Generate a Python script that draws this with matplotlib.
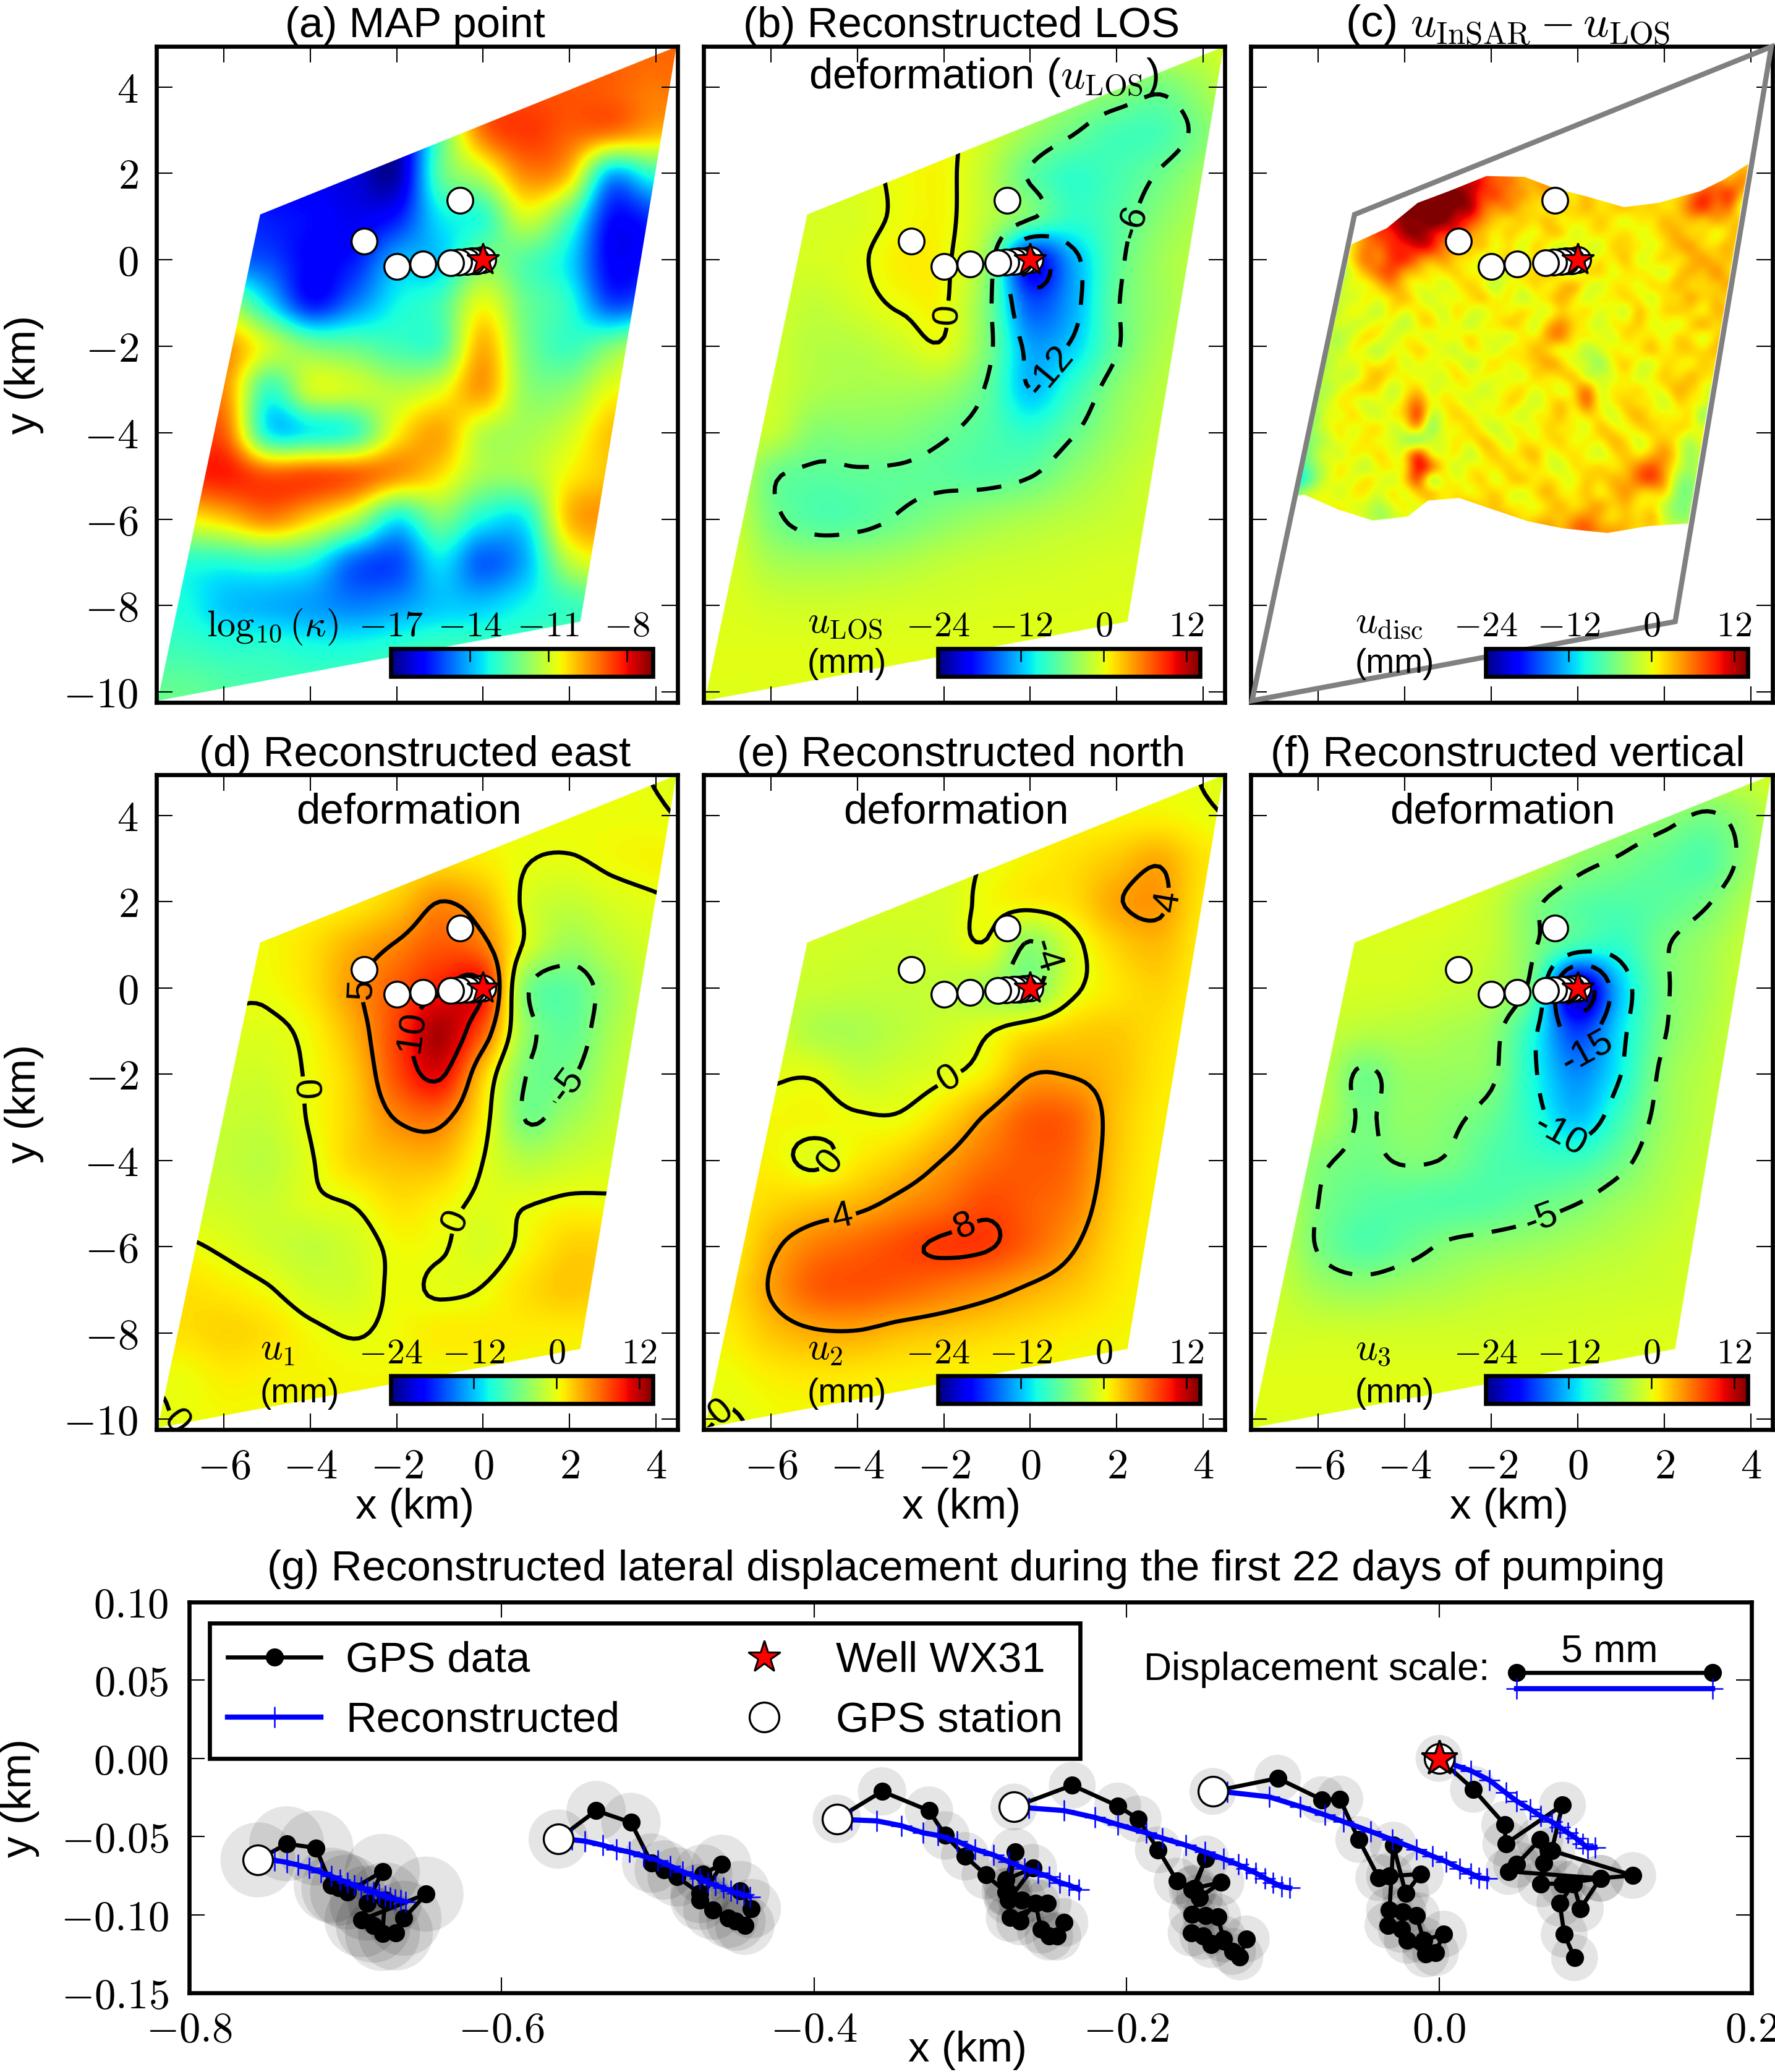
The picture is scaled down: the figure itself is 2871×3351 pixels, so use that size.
import numpy as np
import matplotlib
matplotlib.use('Agg')
import matplotlib.pyplot as plt
from matplotlib.lines import Line2D
from matplotlib.patches import Polygon, Circle

plt.rcParams['font.family'] = ['Liberation Sans', 'DejaVu Sans']
plt.rcParams['mathtext.fontset'] = 'cm'
plt.rcParams['axes.linewidth'] = 1.6

W, H = 2871, 3351

## grid nodes of the smooth fields (km)
x_nodes = np.arange(-8, 6)
y_nodes = np.arange(5, -12, -1)

## (a) log10 permeability
kappa = [
 [-16,-16,-16,-16,-16,-16,-16,-12,-9,-9,-9,-9,-9,-9],
 [-16,-16,-16,-16,-16,-16,-16,-12,-9,-8.8,-8.8,-8.9,-9.2,-9],
 [-16,-16,-16,-16,-16,-16.3,-16.5,-12.5,-9.2,-8.5,-8.9,-9.2,-9.8,-10],
 [-15.5,-15.5,-15.5,-15.8,-16,-16.2,-16.6,-12.5,-11.2,-9.4,-10,-14,-13,-13],
 [-15,-15,-15.2,-15.5,-15.7,-16,-15.5,-13.5,-13,-11,-12.5,-15.6,-15.3,-15],
 [-14.5,-14.5,-14.7,-15,-15.8,-15.5,-14,-13.7,-12,-12.5,-13.5,-15.8,-15.5,-15],
 [-11.5,-11.5,-11.5,-13.5,-15.5,-14.5,-13.3,-12.7,-10.7,-12.2,-13,-15,-14.5,-14],
 [-9.5,-9.5,-9.5,-11,-12,-12.3,-12.7,-12.6,-9.8,-12,-12.8,-12,-11,-11],
 [-9.5,-9.5,-9.5,-12.8,-11,-11,-11.3,-10.8,-9.6,-11.7,-11.8,-10.7,-10.5,-10.5],
 [-9,-9,-9,-13.3,-13.3,-12.8,-10.5,-9.7,-11.2,-11.5,-11,-10,-10,-10],
 [-8.4,-8.4,-8.2,-8.8,-8.7,-8.9,-9.5,-10.3,-11.5,-11.5,-10.5,-10,-10,-10],
 [-10.5,-10.5,-10,-9.3,-10.1,-11.3,-13.3,-12,-13.2,-13.3,-10,-9.5,-9.5,-9.5],
 [-13,-13,-13,-12.8,-13.2,-14.7,-15,-13.5,-14.8,-14,-11.3,-10.5,-10.5,-10.5],
 [-13.2,-13.2,-13.8,-14,-14.2,-14.5,-14.3,-13.8,-13.8,-13.3,-12.8,-12.5,-12.5,-12.5],
 [-12.8,-12.8,-13,-13,-13.2,-13.2,-13,-12.8,-12.8,-12.8,-12.5,-12.5,-12.5,-12.5],
 [-12.3,-12.3,-12.5,-12.7,-12.7,-12.7,-12.7,-12.7,-12.7,-12.7,-12.5,-12.5,-12.5,-12.5],
 [-12.3,-12.3,-12.5,-12.7,-12.7,-12.7,-12.7,-12.7,-12.7,-12.7,-12.5,-12.5,-12.5,-12.5],
]

## (b) LOS deformation (mm)
u_los = [
 [-.5,-.5,-.5,-.5,-.5,-.5,-.5,-.5,-.5,-.5,-.5,-1.5,-1.5,-.4],
 [-.5,-.5,-.5,-.5,-.5,-.5,-.5,-.5,-2,-3,-4,-5.5,-3.5,-.6],
 [-.5,-.5,-.5,-.5,-.5,.3,.3,-1,-3.5,-5.7,-7.5,-7.5,-5,-1.5],
 [-.5,-.5,-.5,-.5,-.5,.3,.5,-2,-6.3,-8.5,-7.5,-5.8,-3.5,-1.5],
 [-.5,-.5,-.8,-.8,-.7,.3,.5,-2,-5.5,-8.5,-7,-4.5,-2.5,-1.5],
 [-.5,-.5,-.7,-.8,-.3,.9,.4,-4,-19,-13,-6.8,-3.5,-2,-1.5],
 [-1,-1,-1,-1.7,-.8,.3,.3,-5,-16,-13,-6.3,-3.5,-2,-1.5],
 [-1,-1,-1.2,-2.3,-2.3,-1.3,-.3,-5,-13,-11.5,-6.3,-3,-1.7,-1.5],
 [-1,-1,-1.2,-2.6,-3,-3,-3.5,-6.3,-12,-8.5,-4.5,-2.3,-1.5,-1.5],
 [-1,-1,-1.7,-4.5,-4.5,-4.7,-5.7,-7,-8.5,-6.2,-3.5,-1.8,-1.3,-1.3],
 [-.7,-.7,-5.5,-6.5,-6.3,-6.3,-6.5,-6.8,-6.1,-4,-2.3,-1.2,-1,-1],
 [-1,-1,-5.2,-7,-6.8,-5.7,-4.5,-3.5,-2.8,-2.1,-1.5,-1,-1,-1],
 [-.8,-.8,-3,-3.5,-3.3,-2.8,-2,-1.5,-1.3,-1,-.8,-.7,-.7,-.7],
 [-.6,-.6,-1.2,-1.3,-1.2,-1,-.9,-.7,-.6,-.6,-.5,-.5,-.5,-.5],
 [-.4,-.4,-.4,-.4,-.4,-.4,-.4,-.4,-.4,-.4,-.4,-.4,-.4,-.4],
 [-.4,-.4,-.4,-.4,-.4,-.4,-.4,-.4,-.4,-.4,-.4,-.4,-.4,-.4],
 [-.4,-.4,-.4,-.4,-.4,-.4,-.4,-.4,-.4,-.4,-.4,-.4,-.4,-.4],
]

## (d) east deformation (mm)
u_east = [
 [.5,.5,.5,.5,.5,.5,.5,.5,.5,.5,.3,.3,-.1,-.8],
 [.5,.5,.5,.5,.5,.5,.5,.5,.5,.3,.3,.3,.2,-.3],
 [.5,.5,.5,.5,.5,.5,1,1.5,1,.1,-.1,.4,.7,.7],
 [.5,.5,.5,.5,.5,1,2.5,5,3.5,-.5,-1.7,-.8,-.2,.2],
 [.5,.5,.5,.5,1.5,3.5,5.2,7,5.7,-.5,-3.5,-2,-.8,-.5],
 [-.1,-.1,.2,.3,1.5,4.5,7,9.5,10,-4.5,-6.5,-3.5,-1.2,-1],
 [-.3,-.3,-.3,-.4,.6,3.5,8,12.5,7,-3.7,-6.3,-3,-1,-1],
 [-1,-1,-1,-1,.3,2.5,7.5,10.5,2.5,-5,-5.3,-2.3,-1,-1],
 [-1.5,-1.5,-1.5,-1.5,.2,2.2,5.2,5.8,1,-5.2,-3.5,-1.7,-1,-1],
 [-1.7,-1.7,-1.7,-2,-.2,2,3,3,0,-2.3,-1.5,-.8,-.5,-.5],
 [-1,-1,-1.2,-1.5,-.4,.1,1.5,.8,-.4,-.1,.4,.3,.3,.3],
 [.3,.3,-.3,-1.2,-1.8,-1,.4,.2,-.8,.5,2,2,2,2],
 [1.5,1.5,1,.2,-1,-1,.3,-.2,.1,1.5,2.5,2,2,2],
 [1.5,1.5,2,1.5,.4,-.1,.4,1,1,1,1,1,1,1],
 [.3,.3,1,.8,.7,.5,.5,.5,.5,.5,.5,.5,.5,.5],
 [-.5,.1,.5,.5,.5,.5,.5,.5,.5,.5,.5,.5,.5,.5],
 [-.5,-.5,.5,.5,.5,.5,.5,.5,.5,.5,.5,.5,.5,.5],
]

## (e) north deformation (mm)
u_north = [
 [0,0,0,0,0,0,0,0,0,0,0,.3,-.1,-1],
 [0,0,0,0,0,0,0,0,.3,.5,.7,.8,.3,-.3],
 [-.5,-.5,-.5,-.5,-.5,-.5,-.5,.1,.8,1.5,2.5,3.7,1.5,.5],
 [-.8,-.8,-.8,-.8,-.8,-.8,-.8,.4,.8,1.5,3.8,4.4,1.3,.5],
 [-1,-1,-1,-1,-1.2,-1.3,-1,-.2,-4.3,-.7,2,3,1,.5],
 [-1.5,-1.5,-1.5,-1.5,-1.7,-1.7,-1.8,-3,-4.5,-.5,1.2,2,.8,.5],
 [-1,-1,-1,-2.6,-2.8,-2,-1.2,-.2,1.3,2.2,2.4,1.5,.6,.5],
 [-.2,-.2,-.2,-.2,-1.5,-1,-.3,1,3.9,3.8,2.8,1.3,.6,.5],
 [.5,.5,.5,.6,.2,.2,1.8,4.3,6.8,6.5,2.8,1,.5,.5],
 [.7,.7,.7,-.4,1,2.3,4.1,6,7,6.3,2.6,.8,.5,.5],
 [1,1,1.8,2.5,3.3,4.7,6,7.5,6.8,5.5,2.2,.7,.5,.5],
 [.8,.8,3.5,5.5,6.5,7.5,8.3,8.2,6.5,4.2,1.7,.5,.5,.5],
 [1.5,1.5,4.2,6.8,7.2,6.7,5.8,4.8,3.6,2.5,1.2,.4,.4,.4],
 [1,1,2.7,3.7,3.8,3,2.5,2,1.5,1,.7,.5,.5,.5],
 [.3,.3,1,1.3,1.2,1,.8,.7,.6,.5,.5,.5,.5,.5],
 [.5,-.1,.4,.5,.5,.5,.5,.5,.5,.5,.5,.5,.5,.5],
 [-.5,-.5,.4,.5,.5,.5,.5,.5,.5,.5,.5,.5,.5,.5],
]

## (f) vertical deformation (mm)
u_vert = [
 [-.5,-.5,-.5,-.5,-.5,-.5,-.5,-.5,-.5,-.5,-.5,-1.5,-1.5,-.4],
 [-.5,-.5,-.5,-.5,-.5,-.5,-.5,-.5,-2,-3,-4,-5.3,-3.5,-.6],
 [-.5,-.5,-.5,-.5,-.5,-.5,-.5,-1.5,-4,-5.2,-6.3,-7,-3.8,-1.5],
 [-.5,-.5,-.5,-.5,-.5,-.5,-1.5,-4.5,-6.5,-7,-6.5,-5.2,-2.5,-1],
 [-.7,-.7,-.7,-.7,-.7,-1,-1.7,-4.8,-8,-8.5,-5.3,-3.5,-1.5,-.7],
 [-.8,-.8,-.8,-.9,-1,-1.5,-2.4,-6.5,-22,-12,-5.5,-3.2,-1.2,-.7],
 [-1.5,-1.5,-1.5,-2.2,-2.3,-2.8,-4,-9.5,-17,-10.8,-5.2,-2.7,-1.2,-.8],
 [-2,-2,-2,-5.4,-3.7,-3.7,-4.5,-9.7,-14,-10,-4.2,-2.2,-1.2,-.8],
 [-2.5,-2.5,-2.5,-5.2,-4,-4.5,-6,-9,-12,-8,-3.8,-2,-1.2,-.8],
 [-2.5,-2.5,-4.5,-5.5,-4.8,-5.2,-7,-7.8,-8,-5.8,-3,-1.7,-.9,-.8],
 [-1.7,-1.7,-5,-6.5,-6.8,-7,-6.8,-6,-5,-3.5,-2.3,-1.2,-.8,-.8],
 [-1.8,-1.8,-5.2,-7,-6,-4.6,-4,-3.5,-2.8,-2.2,-1.5,-1,-.8,-.8],
 [-1.5,-1.5,-3.2,-3.8,-3.2,-2.7,-2,-1.7,-1.5,-1.3,-1.1,-.8,-.7,-.7],
 [-1,-1,-1.1,-1.2,-1.2,-1.1,-1,-.9,-.8,-.7,-.6,-.6,-.6,-.6],
 [-.4,-.4,-.4,-.4,-.4,-.4,-.4,-.4,-.4,-.4,-.4,-.4,-.4,-.4],
 [-.4,-.4,-.4,-.4,-.4,-.4,-.4,-.4,-.4,-.4,-.4,-.4,-.4,-.4],
 [-.4,-.4,-.4,-.4,-.4,-.4,-.4,-.4,-.4,-.4,-.4,-.4,-.4,-.4],
]

## (c) discrepancy (mm), columns x=-7..4.7, rows y=2.4..-6.6, 0.3 km cells
u_disc = [
 [2,2,2,2,2,2,2,2,2,2, 2,2,2,2,2,2,2,2,2,2, 2,2,2,2,2,2,2,2,2,2, 2,2,2,2,2,2,3,2,2,2],
 [2,2,2,2,2,2,2,2,2,2, 2,2,2,2,5,7,8,7,5,4, 4,3,2,2,2,2,2,2,2,2, 2,2,2,2,2,2,4,3,1,1],
 [2,2,2,2,2,2,2,2,2,2, 3,7,9,11,8,12,9,5,7,3, 4,6,2,3,5,2,2,2,2,2, 2,3,2,4,6,3,7,2,1,1],
 [2,2,2,2,2,2,2,2,2,4, 9,12,10,13,14,10,7,9,4,6, 2,5,3,1,4,2,3,1,2,2, 3,2,5,9,6,10,3,-1,1,1],
 [2,2,2,2,2,2,2,3,5,9, 13,14,12,14,11,13,6,4,7,2, 3,0,4,2,5,1,3,5,2,4, 1,3,7,10,4,8,-3,5,1,1],
 [2,2,2,2,2,1,2,4,7,11, 12,10,14,13,9,8,5,3,1,4, 2,5,0,3,1,4,2,-1,3,1, 5,2,4,1,6,2,4,3,0,0],
 [1,1,1,0,-1,1,3,5,9,7, 12,13,9,7,10,4,3,1,4,2, 0,3,5,-1,2,3,1,4,0,2, 3,5,1,4,-1,3,5,1,2,0],
 [0,0,-1,-2,-1,0,2,6,5,9, 7,10,11,4,6,2,5,0,3,-1, 4,2,-2,3,1,-1,4,2,3,0, 2,4,6,1,3,5,0,2,1,1],
 [-1,-1,-2,-3,-3,-1,3,7,4,8, 10,5,3,6,1,3,-1,2,4,1, 3,-1,2,4,0,3,1,5,-1,2, 4,1,3,6,2,4,1,3,1,1],
 [-2,-2,-3,-5,-4,-2,1,4,7,8, 3,4,1,2,4,0,3,1,-1,3, 2,5,1,-2,3,4,0,2,3,1, -1,3,5,2,7,1,3,4,1,1],
 [-3,-3,-4,-6,-4,0,2,0,3,6, 2,0,3,-1,2,4,1,-2,3,1, 4,0,3,6,1,-1,3,2,0,4, 2,5,1,3,2,6,2,0,1,1],
 [-3,-3,-4,-5,-3,1,-1,3,1,2, 5,1,-1,3,0,2,5,1,3,-2, 1,3,5,2,-1,3,1,4,2,-1, 3,1,6,2,4,1,5,3,1,1],
 [-3,-3,-5,-4,-2,0,3,1,-2,4, 0,3,2,-1,4,1,-1,3,0,4, 2,-1,3,1,4,0,2,-2,5,1, 3,4,2,0,5,3,6,1,1,1],
 [-3,-4,-5,-3,-1,2,-1,0,3,1, -2,2,4,0,2,-2,3,1,5,2, -1,4,6,3,1,-1,3,2,4,0, 2,-1,3,6,1,4,2,1,1,1],
 [-3,-4,-4,-2,0,-2,1,4,2,-1, 3,1,-1,3,1,4,0,2,-2,3, 1,5,7,1,3,2,-1,4,1,3, 0,4,2,-1,3,5,1,1,1,1],
 [-3,-4,-5,-3,1,-1,3,0,-2,2, 1,4,2,0,-1,3,2,-1,4,1, 5,2,-1,3,-3,1,3,0,2,5, 1,3,4,2,5,1,2,1,1,1],
 [-3,-3,-4,-1,-2,2,0,3,1,4, -1,2,0,3,2,-2,1,4,0,3, 2,6,4,-1,2,-4,2,4,1,-1, 3,2,0,4,1,3,1,1,1,1],
 [-2,-3,-4,-2,1,0,-1,2,5,1, 3,0,2,-1,4,1,3,0,2,-1, 4,1,3,5,-2,1,0,3,-1,2, 4,1,5,2,3,1,1,1,1,1],
 [-2,-3,-3,0,-2,1,3,4,2,-1, 1,4,-1,2,0,3,-2,2,1,4, 0,3,-1,2,8,-1,3,1,4,0, 2,5,3,1,-1,1,1,1,1,1],
 [-2,-3,-3,-1,0,3,1,-1,2,0, 3,7,1,3,2,-1,3,0,4,2, -1,2,4,1,9,0,2,4,1,3, -2,4,1,3,-3,1,1,1,1,1],
 [-2,-3,-2,-3,2,0,4,1,-1,3, 2,11,-2,1,4,2,0,3,1,-1, 3,1,5,0,3,2,-1,3,5,1, 3,0,4,-5,2,1,1,1,1,1],
 [-2,-3,-3,-1,1,3,0,2,4,-1, 1,6,-5,3,0,4,1,-2,3,2, 0,4,1,3,-1,5,2,0,3,4, 1,4,2,1,3,1,1,1,1,1],
 [-2,-3,-4,-2,-1,2,1,3,0,2, -2,-6,2,0,3,1,5,2,-1,3, 1,2,4,0,3,1,5,3,-1,2, 4,1,-2,3,1,1,1,1,1,1],
 [-3,-4,-4,-1,2,-1,3,1,4,0, 2,12,-1,1,3,-2,2,4,1,3, 5,0,2,3,1,-1,2,4,1,3, 6,2,-3,1,1,1,1,1,1,1],
 [-4,-5,-5,-2,0,3,1,-2,2,3, 0,11,9,2,-1,3,1,2,4,0, 3,1,-1,3,2,4,1,3,6,8, 4,1,-2,1,1,1,1,1,1,1],
 [-5,-7,-8,-3,1,2,0,4,1,-1, 3,10,-6,3,1,2,4,-1,3,5, 1,3,2,0,4,2,5,3,7,9, 5,-2,-3,1,1,1,1,1,1,1],
 [-5,-6,0,1,2,-1,3,2,0,4, -1,3,6,1,3,0,2,4,1,-1, 3,5,1,2,4,0,3,6,2,1, 4,-3,-3,1,1,1,1,1,1,1],
 [1,1,0,2,1,3,0,1,-2,1, 3,0,2,1,3,5,2,4,1,3, 0,2,5,1,3,6,2,4,1,3, -1,-3,-2,1,1,1,1,1,1,1],
 [1,1,1,1,1,1,2,0,-2,-1, 1,1,1,1,1,2,4,3,5,1, 3,4,2,5,6,3,1,4,2,5, 0,-2,-2,1,1,1,1,1,1,1],
 [2,2,2,2,2,2,2,2,2,2, 2,2,2,2,2,2,2,2,3,5, 4,6,3,7,8,5,6,4,2,3, 1,1,1,1,1,1,1,1,1,1],
 [2,2,2,2,2,2,2,2,2,2, 2,2,2,2,2,2,2,2,2,2, 2,2,2,2,2,2,2,2,2,2, 2,2,2,2,2,2,2,2,2,2],
]
disc_left, disc_right = -7.15, 4.85
disc_top, disc_bottom = 2.55, -6.75
## my cell estimates came out too warm and too flat once interpolated
disc_shift, disc_gain = -1.2, 1.3

## domain outline and the part of it covered by the InSAR frame
domain_x = [-5.16, 4.47, 2.25, -7.53]
domain_y = [1.05, 4.93, -8.37, -10.2]
insar_x = [-5.23,-4.42,-3.7,-2.98,-2.11,-1.23,-.52,.12,1.07,1.87,2.83,3.38,3.94,2.55,1.63,.68,-.36,-1.15,-1.95,-2.74,-3.46,-3.94,-4.74,-5.53,-6.33,-6.5]
insar_y = [.36,.73,1.32,1.59,1.94,1.92,1.65,1.49,1.22,1.32,1.59,1.86,2.22,-6.1,-6.16,-6.32,-6.21,-6.05,-5.78,-5.51,-5.57,-5.94,-6.03,-5.78,-5.43,-5.46]

## stations and well, the leftmost of the line is drawn last
station_x = [0.0, -0.145, -0.27, -0.385, -0.56, -0.75, -1.4, -2.0, -2.76, -0.53]
station_y = [0.0, -0.021, -0.031, -0.039, -0.052, -0.065, -0.1, -0.15, 0.43, 1.38]

## contour levels and label spots per panel
levels_b = [-18, -12, -6, 0]
levels_d = [-5, 0, 5, 10]
levels_e = [-4, 0, 4, 8]
levels_f = [-20, -15, -10, -5]
spots_b = [(-1.85,-1.26), (2.13,.95), (.6,-2.66)]
spots_d = [(-4.19,-2.37), (-1.04,-5.25), (-2.71,-.02), (-1.43,-1.03), (1.64,-1.98), (-6.95,-9.94)]
spots_e = [(-1.99,-1.92), (-4.59,-4.06), (-4.33,-5.37), (-1.41,-5.78), (3.26,2.0), (.6,.78), (-7.0,-9.94)]
spots_f = [(-.82,-5.43), (-.36,-3.35), (.24,-1.51)]

map_xticks = [-6, -4, -2, 0, 2, 4]
map_yticks = [4, 2, 0, -2, -4, -6, -8, -10]
kappa_ticks = [-17, -14, -11, -8]
disp_ticks = [-24, -12, 0, 12]

## (g) GPS tracks (km)
gps_x = [
 [-.756,-.7376,-.7189,-.7091,-.7042,-.6986,-.6763,-.6861,-.6747,-.6763,-.6822,-.6894,-.6484,-.6625,-.668],
 [-.5638,-.5395,-.5172,-.5041,-.4959,-.4877,-.473,-.4713,-.4592,-.473,-.4648,-.4549,-.45,-.4444,-.4402,-.4474],
 [-.3854,-.3565,-.3265,-.316,-.3033,-.2901,-.2773,-.2756,-.26,-.2773,-.2715,-.2756,-.2669,-.2507,-.2746,-.268,-.2583,-.2548,-.2497,-.2445,-.24],
 [-.2721,-.2348,-.2057,-.1926,-.1797,-.1676,-.158,-.1493,-.1565,-.1396,-.1535,-.158,-.1493,-.1417,-.1379,-.1587,-.1511,-.1458,-.1321,-.1275,-.1234],
 [-.1448,-.1033,-.0749,-.0635,-.0514,-.0386,-.0317,-.0119,-.0213,-.0293,-.0317,-.023,-.0144,-.0099,.0029,-.0023,-.0085,-.0203,-.0241,-.0327],
 [0.0,.022,.042,.0427,.079,.0721,.124,.1033,.0445,.0496,.0645,.0669,.0652,.079,.1033,.0905,.086,.0773,.0801,.0867],
]
gps_y = [
 [-.0649,-.0546,-.0573,-.0811,-.0829,-.0855,-.0723,-.0926,-.0905,-.112,-.1067,-.1032,-.0868,-.1023,-.1117],
 [-.0516,-.0334,-.041,-.067,-.0714,-.0758,-.0864,-.074,-.0678,-.0908,-.097,-.1023,-.1041,-.1067,-.0961,-.0846],
 [-.0387,-.0211,-.0334,-.0493,-.0626,-.0746,-.0855,-.0908,-.0702,-.0776,-.0599,-.0855,-.0908,-.0926,-.1019,-.1041,-.0926,-.1094,-.1138,-.1138,-.105],
 [-.0311,-.0172,-.0304,-.0387,-.0585,-.0785,-.0838,-.0643,-.083,-.0793,-.0891,-.0997,-.1005,-.1014,-.1155,-.1117,-.1138,-.1191,-.1235,-.127,-.1155],
 [-.0211,-.0127,-.0264,-.026,-.0519,-.0763,-.0753,-.074,-.0864,-.0555,-.097,-.0982,-.1005,-.1164,-.1124,-.1243,-.1252,-.1164,-.1094,-.1067],
 [0.0,-.0198,-.0423,-.0546,-.0299,-.059,-.0749,-.0767,-.0723,-.0679,-.052,-.067,-.0802,-.0802,-.0767,-.0961,-.0802,-.0926,-.1124,-.1275],
]
gps_radius = [.024, .019, .0155, .015, .015, .015]

## (g) reconstructed tracks (km)
rec_x = [
 [-.756,-.7452,-.7376,-.7304,-.7232,-.7157,-.7091,-.7035,-.6986,-.6943,-.6901,-.6861,-.6822,-.6786,-.6747,-.6714,-.6681,-.6648,-.6615],
 [-.5638,-.555,-.5468,-.5353,-.5264,-.5182,-.509,-.5002,-.492,-.4844,-.4779,-.473,-.468,-.4631,-.4582,-.4533,-.4493,-.4451,-.4411],
 [-.3854,-.3762,-.3598,-.344,-.3303,-.3206,-.3085,-.297,-.2853,-.2756,-.2652,-.2566,-.2497,-.2427,-.2368,-.2306],
 [-.2721,-.2625,-.24,-.2202,-.2057,-.1874,-.177,-.1621,-.15,-.1379,-.1286,-.1234,-.1175,-.1113,-.1061,-.1009,-.0957],
 [-.1448,-.1355,-.1088,-.0888,-.0732,-.0611,-.0438,-.03,-.0144,-.004,.0047,.0133,.0202,.0254,.0306],
 [0.0,.0099,.0202,.0323,.0427,.0497,.0583,.0652,.0721,.0773,.0825,.0877,.0919,.0953,.0998],
]
rec_y = [
 [-.0649,-.0652,-.0665,-.0682,-.0702,-.0728,-.0753,-.0776,-.0794,-.0811,-.0825,-.0841,-.0855,-.0866,-.0878,-.0891,-.0901,-.0908,-.0917],
 [-.0516,-.052,-.0529,-.0555,-.0582,-.0599,-.0626,-.0652,-.0688,-.0723,-.0749,-.0767,-.0794,-.0811,-.0829,-.0846,-.0864,-.0873,-.0885],
 [-.0387,-.0393,-.04,-.0431,-.0476,-.0493,-.0529,-.0582,-.0617,-.0661,-.0705,-.0732,-.0758,-.0794,-.0811,-.0838],
 [-.0311,-.0317,-.0334,-.0378,-.0423,-.0476,-.0511,-.0555,-.0599,-.0643,-.0679,-.0705,-.0732,-.0767,-.0794,-.082,-.0829],
 [-.0211,-.0216,-.0246,-.0308,-.0361,-.0405,-.0467,-.052,-.0582,-.0626,-.0661,-.0705,-.0735,-.0763,-.077],
 [0.0,-.0043,-.0078,-.014,-.022,-.0273,-.0325,-.037,-.0405,-.044,-.0476,-.0511,-.0546,-.0573,-.0569],
]
g_xticks = [-0.8, -0.6, -0.4, -0.2, 0.0, 0.2]
g_yticks = [0.10, 0.05, 0.00, -0.05, -0.10, -0.15]
scale_x = [.0497, .1749]


def cr_axis(z, n, axis):
    # catmull-rom along one axis, goes through the nodes
    z = np.moveaxis(z, axis, 0)
    m = z.shape[0]
    u = np.linspace(0, m - 1, (m - 1) * n + 1)
    i = np.clip(np.floor(u).astype(int), 0, m - 2)
    t = (u - i).reshape(-1, 1)
    p0, p1 = z[np.clip(i - 1, 0, m - 1)], z[i]
    p2, p3 = z[i + 1], z[np.clip(i + 2, 0, m - 1)]
    out = 0.5 * (2 * p1 + (p2 - p0) * t + (2 * p0 - 5 * p1 + 4 * p2 - p3) * t**2 + (3 * p1 - p0 - 3 * p2 + p3) * t**3)
    return np.moveaxis(out, 0, axis)


def refine(field, n=8):
    return cr_axis(cr_axis(np.array(field, float), n, 0), n, 1)


def make_axes(x0, y0, x1, y1):
    return fig.add_axes([x0 / W, 1 - y1 / H, (x1 - x0) / W, (y1 - y0) / H])


def fig_text(x, y, s, size=16.6, ha='center', va='center', z=3, **kw):
    return fig.text(x / W, 1 - y / H, s, fontsize=size, ha=ha, va=va, zorder=z, **kw)


def draw_field(ax, field, vmin, vmax, extent=(-8, 5, -11, 5), interp='bilinear'):
    im = ax.imshow(field, extent=extent, origin='upper', cmap='jet', vmin=vmin, vmax=vmax,
                   aspect='auto', interpolation=interp)
    return im


def dress_map(ax, left, bottom):
    ax.set_xlim(-7.56, 4.5)
    ax.set_ylim(-10.24, 4.94)
    ax.set_xticks(map_xticks)
    ax.set_yticks(map_yticks)
    ax.set_xticklabels(['$%d$' % v for v in map_xticks] if bottom else [])
    ax.set_yticklabels(['$%d$' % v for v in map_yticks] if left else [])
    ax.tick_params(which='both', direction='in', top=True, right=True, length=6.3, width=.5, labelsize=16.5)
    ax.tick_params(axis='x', pad=7)
    ax.tick_params(axis='y', pad=7)


def add_wells(ax):
    ax.plot(station_x, station_y, 'o', mfc='w', mec='k', ms=10, mew=.8, zorder=6)
    ax.plot([0], [0], '*', mfc='r', mec='k', ms=13, mew=.7, zorder=7)


def add_bar(ax, im, ticks):
    cax = ax.inset_axes([.45, .04, .503, .042])
    cb = fig.colorbar(im, cax=cax, orientation='horizontal')
    cb.set_ticks(ticks)
    cb.set_ticklabels(['$%d$' % v for v in ticks])
    cb.outline.set_linewidth(1.6)
    cax.xaxis.set_ticks_position('top')
    cax.tick_params(direction='in', length=5, width=.6, labelsize=14, pad=2)


def add_contours(ax, field, levels, spots, clip):
    fine = refine(field)
    xf = np.linspace(x_nodes[0], x_nodes[-1], fine.shape[1])
    yf = np.linspace(y_nodes[0], y_nodes[-1], fine.shape[0])
    styles = [(0, (6, 4.5)) if v < 0 else 'solid' for v in levels]
    cs = ax.contour(xf, yf, fine, levels=levels, colors='k', linewidths=1.6, linestyles=styles, zorder=3)
    cs.set_clip_path(clip)
    ax.clabel(cs, fmt='%d', fontsize=14.5, inline=True, inline_spacing=4, manual=spots)


fig = plt.figure(figsize=(W / 300, H / 300), dpi=300)

col_px = [(253, 1096), (1138, 1981), (2023, 2867)]
row_px = [(75, 1136), (1253, 2312)]
domain_xy = np.column_stack([domain_x, domain_y])

panels = [
 (0, 0, kappa, -17, -7, None, None, kappa_ticks),
 (0, 1, u_los, -24, 14, levels_b, spots_b, disp_ticks),
 (1, 0, u_east, -24, 14, levels_d, spots_d, disp_ticks),
 (1, 1, u_north, -24, 14, levels_e, spots_e, disp_ticks),
 (1, 2, u_vert, -24, 14, levels_f, spots_f, disp_ticks),
]
for r, c, field, vmin, vmax, levels, spots, ticks in panels:
    ax = make_axes(col_px[c][0], row_px[r][0], col_px[c][1], row_px[r][1])
    clip = Polygon(domain_xy, closed=True, transform=ax.transData, fc='none', ec='none')
    ax.add_patch(clip)
    im = draw_field(ax, refine(field), vmin, vmax)
    im.set_clip_path(clip)
    if levels is not None:
        add_contours(ax, field, levels, spots, clip)
    add_wells(ax)
    dress_map(ax, c == 0, r == 1)
    add_bar(ax, im, ticks)

## panel c
ax = make_axes(col_px[2][0], row_px[0][0], col_px[2][1], row_px[0][1])
clip = Polygon(np.column_stack([insar_x, insar_y]), closed=True, transform=ax.transData, fc='none', ec='none')
ax.add_patch(clip)
disc = (np.array(u_disc, float) + disc_shift) * disc_gain
im = draw_field(ax, disc, -24, 14, extent=(disc_left, disc_right, disc_bottom, disc_top), interp='bicubic')
im.set_clip_path(clip)
ax.add_patch(Polygon(domain_xy, closed=True, fc='none', ec='0.5', lw=2, zorder=4, clip_on=False))
add_wells(ax)
dress_map(ax, False, False)
add_bar(ax, im, disp_ticks)

## titles, first lines sit behind the axes frame
fig_text(671, 42, '(a) MAP point', z=-1)
fig_text(1555, 42, '(b) Reconstructed LOS', z=-1)
fig_text(2439, 40, r'(c) $u_{\mathrm{InSAR}} - u_{\mathrm{LOS}}$', size=17.5, z=-1)
fig_text(671, 1221, '(d) Reconstructed east', z=-1)
fig_text(1555, 1221, '(e) Reconstructed north', z=-1)
fig_text(2439, 1221, '(f) Reconstructed vertical', z=-1)
fig_text(1591, 125, r'deformation ($u_{\mathrm{LOS}}$)')
fig_text(661, 1313, 'deformation')
fig_text(1546, 1313, 'deformation')
fig_text(2430, 1313, 'deformation')

## colorbar captions
fig_text(440, 1014, r'$\log_{10}(\kappa)$', size=14.5)
fig_text(1306, 1006, r'$u_{\mathrm{LOS}}$', size=15, ha='left')
fig_text(1306, 1074, '(mm)', size=13.2, ha='left')
fig_text(2192, 1006, r'$u_{\mathrm{disc}}$', size=15, ha='left')
fig_text(2192, 1074, '(mm)', size=13.2, ha='left')
for x0, sym in zip([421, 1306, 2192], [r'$u_1$', r'$u_2$', r'$u_3$']):
    fig_text(x0, 2182, sym, size=15, ha='left')
    fig_text(x0, 2254, '(mm)', size=13.2, ha='left')

## axis labels
fig_text(39, 606, 'y (km)', rotation=90)
fig_text(39, 1785, 'y (km)', rotation=90)
for x0 in [671, 1555, 2441]:
    fig_text(x0, 2438, 'x (km)')

## panel g
ax = make_axes(306, 2591, 2833, 3223)
for i in range(6):
    for px, py in zip(gps_x[i], gps_y[i]):
        ax.add_patch(Circle((px, py), gps_radius[i], fc='k', ec='none', alpha=.1, zorder=1))
    ax.plot(gps_x[i], gps_y[i], '-o', color='k', lw=1.6, ms=6, zorder=3)
    ax.plot(rec_x[i], rec_y[i], '-+', color='b', lw=2, ms=8, mew=.6, zorder=4)
ax.plot([t[0] for t in gps_x], [t[0] for t in gps_y], 'o', mfc='w', mec='k', ms=11.5, mew=.8, zorder=5)
ax.plot([0], [0], '*', mfc='r', mec='k', ms=14.5, mew=.8, zorder=6)

ax.plot(scale_x, [.0549, .0549], '-o', color='k', lw=1.6, ms=6)
ax.plot(scale_x, [.0448, .0448], '-+', color='b', lw=2, ms=8, mew=.6)
ax.text(.1092, .0685, '5 mm', fontsize=15, ha='center', va='center')
ax.text(.0323, .0565, 'Displacement scale:', fontsize=15, ha='right', va='center')

ax.set_xlim(-.8, .2)
ax.set_ylim(-.15, .10)
ax.set_xticks(g_xticks)
ax.set_yticks(g_yticks)
ax.set_xticklabels(['$%.1f$' % v for v in g_xticks])
ax.set_yticklabels(['$%.2f$' % v for v in g_yticks])
ax.tick_params(which='both', direction='in', top=True, right=True, length=6, width=.5, labelsize=16.5)
ax.tick_params(axis='x', pad=7)
ax.tick_params(axis='y', pad=8)

handles = [
    Line2D([], [], color='k', marker='o', lw=1.6, ms=6),
    Line2D([], [], color='b', marker='+', lw=2, ms=8, mew=.6),
    Line2D([], [], ls='none', marker='*', mfc='r', mec='k', ms=13, mew=.7),
    Line2D([], [], ls='none', marker='o', mfc='w', mec='k', ms=11.5, mew=.8),
]
names = ['GPS data', 'Reconstructed', 'Well WX31', 'GPS station']
leg = ax.legend(handles, names, ncol=2, loc='upper left', bbox_to_anchor=(33 / 2527, 1 - 34 / 632),
                borderaxespad=0, fontsize=16.5, numpoints=1, fancybox=False, framealpha=1, edgecolor='k',
                borderpad=.42, labelspacing=.48, handlelength=2.2, handletextpad=.58, columnspacing=2.3)
leg.get_frame().set_linewidth(1.6)
leg.set_zorder(2)

fig_text(1563, 2538, '(g) Reconstructed lateral displacement during the first 22 days of pumping', z=-1)
fig_text(1565, 3316, 'x (km)')
fig_text(32, 2908, 'y (km)', rotation=90)

fig.savefig('out.png', dpi=300)
